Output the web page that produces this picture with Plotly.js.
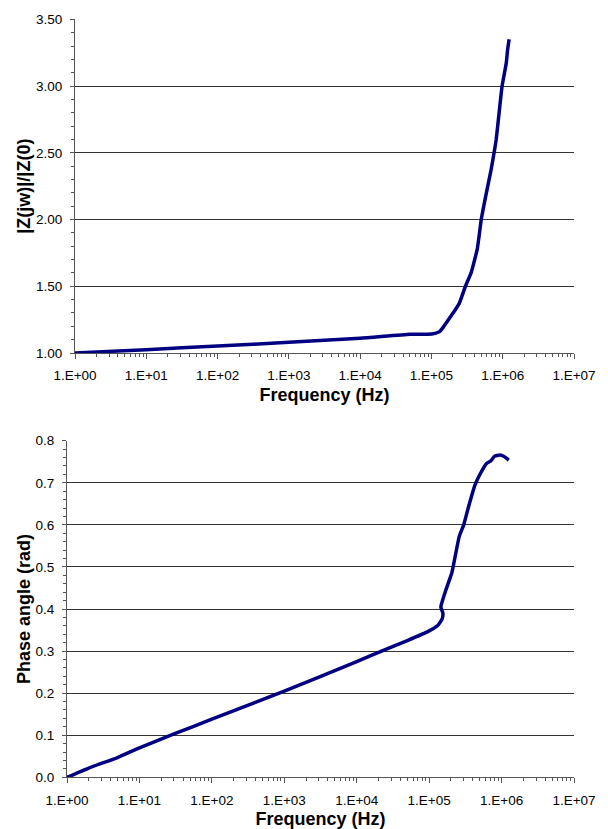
<!DOCTYPE html>
<html>
<head>
<meta charset="utf-8">
<script src="https://cdn.plot.ly/plotly-3.0.1.min.js"></script>
<style>
  html, body { margin: 0; padding: 0; background: #fff; }
  #chart { width: 608px; height: 829px; }
</style>
</head>
<body>
<div id="chart"></div>
<script>
// ---- Data ----
var magFreq = [1, 10, 100, 1000, 1e4, 5e4, 1e5, 1.3e5, 1.45e5, 2.45e5, 3e5, 3.6e5, 4.4e5, 5e5,
               5.9e5, 6.8e5, 7.4e5, 8.1e5, 8.9e5, 9.8e5, 1.12e6, 1.17e6, 1.23e6];
var magRatio = [1.000, 1.025, 1.052, 1.080, 1.110, 1.140, 1.142, 1.160, 1.190, 1.370, 1.500, 1.600,
                1.780, 2.000, 2.200, 2.360, 2.470, 2.600, 2.800, 3.000, 3.170, 3.270, 3.350];

var phaseFreq = [1, 2, 5, 10, 30, 100, 1000, 1e4, 2.2e4, 5e4, 1e5, 1.3e5, 1.5e5, 1.55e5, 1.45e5,
                 1.7e5, 2.05e5, 2.2e5, 2.6e5, 3e5, 3.5e5, 4.3e5, 5.1e5, 6.2e5, 7.1e5, 8e5, 9.5e5,
                 1.07e6, 1.26e6];
var phaseAngle = [0.000, 0.022, 0.047, 0.070, 0.103, 0.138, 0.205, 0.275, 0.300, 0.325, 0.348, 0.360,
                  0.375, 0.390, 0.405, 0.445, 0.485, 0.510, 0.572, 0.600, 0.643, 0.695, 0.722, 0.746,
                  0.752, 0.763, 0.766, 0.763, 0.754];

var freqTickVals = [1, 10, 100, 1000, 1e4, 1e5, 1e6, 1e7];
var freqTickText = ['1.E+00', '1.E+01', '1.E+02', '1.E+03', '1.E+04', '1.E+05', '1.E+06', '1.E+07'];

var xTitle = 'Frequency (Hz)';
var magTitle = '|Z(jw)|/|Z(0)';
var phaseTitle = 'Phase angle (rad)';

// ---- Layout helpers ----
var W = 608, H = 829;
function dx(a, b) { return [a / W, b / W]; }
function dy(top, bottom) { return [(H - bottom) / H, (H - top) / H]; }

var FONT = 'Liberation Sans, Arial, sans-serif';
var AXCOL = '#555555';
var GRIDCOL = '#333333';
var LINECOL = '#000080';

function xAxis(domain, anchor) {
  return {
    type: 'log',
    domain: domain,
    anchor: anchor,
    range: [0, 7],
    tickvals: freqTickVals,
    ticktext: freqTickText,
    ticks: 'outside',
    ticklen: 5,
    tickwidth: 1,
    tickcolor: AXCOL,
    ticklabelstandoff: 5,
    minor: { ticks: 'outside', ticklen: 3, tickwidth: 1, tickcolor: AXCOL, dtick: 'D1', showgrid: false },
    showline: true,
    linecolor: AXCOL,
    linewidth: 1,
    showgrid: false,
    zeroline: false,
    automargin: false,
    tickfont: { family: FONT, size: 13.5, color: '#000' },
    title: { text: xTitle, font: { family: FONT, size: 18, color: '#000', weight: 'bold' }, standoff: 6 }
  };
}

function yAxis(domain, anchor, range, dtick, minorDtick, fmt, title, standoff) {
  return {
    domain: domain,
    anchor: anchor,
    range: range,
    dtick: dtick,
    tick0: 0,
    tickformat: fmt,
    ticks: 'outside',
    ticklen: 4,
    tickwidth: 1,
    tickcolor: AXCOL,
    ticklabelstandoff: 5,
    minor: { ticks: 'outside', ticklen: 3.5, tickwidth: 1, tickcolor: AXCOL, dtick: minorDtick, showgrid: false },
    showline: true,
    linecolor: AXCOL,
    linewidth: 1,
    showgrid: true,
    gridcolor: GRIDCOL,
    gridwidth: 1,
    zeroline: false,
    automargin: false,
    tickfont: { family: FONT, size: 13.5, color: '#000' },
    title: { text: title, font: { family: FONT, size: 18, color: '#000', weight: 'bold' }, standoff: standoff }
  };
}

var traces = [
  {
    x: magFreq, y: magRatio, xaxis: 'x', yaxis: 'y',
    type: 'scatter', mode: 'lines',
    line: { color: LINECOL, width: 3.5, shape: 'spline', smoothing: 0.4 },
    hoverinfo: 'x+y', showlegend: false
  },
  {
    x: phaseFreq, y: phaseAngle, xaxis: 'x2', yaxis: 'y2',
    type: 'scatter', mode: 'lines',
    line: { color: LINECOL, width: 3.5, shape: 'spline', smoothing: 0.4 },
    hoverinfo: 'x+y', showlegend: false
  }
];

var layout = {
  width: W, height: H,
  margin: { l: 0, r: 0, t: 0, b: 0 },
  paper_bgcolor: '#ffffff',
  plot_bgcolor: '#ffffff',
  showlegend: false,
  font: { family: FONT, color: '#000' },
  xaxis: xAxis(dx(75, 574), 'y'),
  yaxis: yAxis(dy(19.3, 353), 'x', [1, 3.5], 0.5, 0.1, '.2f', magTitle, 0),
  xaxis2: xAxis(dx(67, 574), 'y2'),
  yaxis2: yAxis(dy(440.7, 777.3), 'x2', [0, 0.8], 0.1, 0.02, '.1f', phaseTitle, 0)
};

Plotly.newPlot('chart', traces, layout, { displayModeBar: false, staticPlot: true });
</script>
</body>
</html>
